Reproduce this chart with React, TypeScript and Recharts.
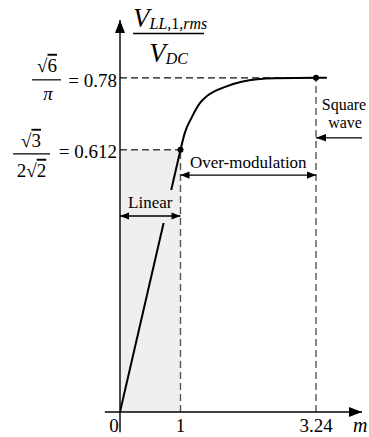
import React from 'react';
import {
  ComposedChart,
  Line,
  XAxis,
  YAxis,
  ReferenceLine,
  ReferenceArea,
  ReferenceDot,
} from 'recharts';

const FONT = "'Liberation Serif', 'Times New Roman', serif";

// Modulation index axis
const mTicks = [0, 1, 3.24];
const mTickLabels = ['0', '1', '3.24'];

// Normalised line-to-line fundamental voltage axis
const vTicks = [0.78, 0.612];
const vTickValueLabels = ['= 0.78', '= 0.612'];

// Linear modulation region
const linearM = [0, 1];
const linearV = [0, 0.612];

// Over-modulation region up to six-step (square wave) operation
const overM = [1, 1.07, 1.19, 1.32, 1.46, 1.74, 2.01, 2.56, 3.24, 3.42];
const overV = [0.612, 0.651, 0.689, 0.721, 0.74, 0.759, 0.771, 0.779, 0.78, 0.78];

// Region markers
const mLinearLimit = 1;
const mSquareWave = 3.24;
const vLinearLimit = 0.612;
const vSquareWave = 0.78;
const vLinearArrow = 0.4575;
const vOverArrow = 0.553;
const vSquareArrow = 0.64;

const linearRows = linearM.map((m, i) => ({ m, v: linearV[i] }));
const overRows = overM.map((m, i) => ({ m, v: overV[i] }));

const M_MAX = 4;
const V_MAX = 0.915;

const serif: React.CSSProperties = { fontFamily: FONT };
const serifItalic: React.CSSProperties = { fontFamily: FONT, fontStyle: 'italic' };

function headPoints(tx: number, ty: number, fx: number, fy: number, len: number, half: number) {
  const dx = tx - fx;
  const dy = ty - fy;
  const d = Math.hypot(dx, dy) || 1;
  const ux = dx / d;
  const uy = dy / d;
  const bx = tx - ux * len;
  const by = ty - uy * len;
  return `${tx},${ty} ${bx - uy * half},${by + ux * half} ${bx + uy * half},${by - ux * half}`;
}

type ArrowOpts = {
  start?: boolean;
  end?: boolean;
  len: number;
  half: number;
  width: number;
  extra?: (x1: number, y1: number, x2: number, y2: number) => React.ReactNode;
  under?: (x1: number, y1: number, x2: number, y2: number) => React.ReactNode;
};

const arrowShape = (o: ArrowOpts) => (p: any) => {
  const x1 = Number(p.x1);
  const y1 = Number(p.y1);
  const x2 = Number(p.x2);
  const y2 = Number(p.y2);
  return (
    <g>
      {o.under ? o.under(x1, y1, x2, y2) : null}
      <line x1={x1} y1={y1} x2={x2} y2={y2} stroke="#000" strokeWidth={o.width} />
      {o.end ? <polygon points={headPoints(x2, y2, x1, y1, o.len, o.half)} fill="#000" /> : null}
      {o.start ? <polygon points={headPoints(x1, y1, x2, y2, o.len, o.half)} fill="#000" /> : null}
      {o.extra ? o.extra(x1, y1, x2, y2) : null}
    </g>
  );
};

const axisArrow = arrowShape({ end: true, len: 13, half: 5, width: 1.4 });

const linearArrow = arrowShape({
  start: true,
  end: true,
  len: 9,
  half: 3.6,
  width: 1.3,
  under: (x1, y1, x2) => (
    <rect x={x1 + 4} y={y1 - 26} width={x2 - x1 - 7} height={33} fill="#efefef" />
  ),
  extra: (x1, y1, x2) => (
    <text x={(x1 + x2) / 2} y={y1 - 8} textAnchor="middle" style={serif} fontSize={17} fill="#000">
      Linear
    </text>
  ),
});

const overArrow = arrowShape({
  start: true,
  end: true,
  len: 9,
  half: 3.6,
  width: 1.3,
  extra: (x1, y1, x2) => (
    <text x={(x1 + x2) / 2} y={y1 - 7} textAnchor="middle" style={serif} fontSize={17} fill="#000">
      Over-modulation
    </text>
  ),
});

const squareArrow = arrowShape({
  start: true,
  len: 10,
  half: 3.8,
  width: 1.3,
  extra: (x1, y1, x2) => (
    <g>
      <text x={(x1 + x2) / 2 + 5} y={y1 - 28} textAnchor="middle" style={serif} fontSize={16} fill="#000">
        Square
      </text>
      <text x={(x1 + x2) / 2 + 6} y={y1 - 9.5} textAnchor="middle" style={serif} fontSize={16} fill="#000">
        wave
      </text>
    </g>
  ),
});

const MTick = (props: any) => {
  const { x, y, payload } = props;
  const i = mTicks.indexOf(payload.value);
  return (
    <text
      x={x + (payload.value === 0 ? -6 : 0)}
      y={y + 20}
      textAnchor="middle"
      style={serif}
      fontSize={19}
      fill="#000"
    >
      {mTickLabels[i]}
    </text>
  );
};

const Root = ({ x, y, d, size }: { x: number; y: number; d: string; size: number }) => (
  <text x={x} y={y} textAnchor="middle" style={serif} fontSize={size} fill="#000">
    √<tspan style={{ textDecoration: 'overline' }}>{d}</tspan>
  </text>
);

const VTick = (props: any) => {
  const { x, y, payload } = props;
  const i = vTicks.indexOf(payload.value);
  const label = vTickValueLabels[i];
  if (i === 0) {
    // sqrt(6)/pi
    return (
      <g>
        <Root x={x - 73} y={y - 6} d="6" size={19} />
        <line x1={x - 88} x2={x - 59} y1={y + 2} y2={y + 2} stroke="#000" strokeWidth={1.2} />
        <text x={x - 72} y={y + 22} textAnchor="middle" style={serifItalic} fontSize={19} fill="#000">
          π
        </text>
        <text x={x - 3} y={y + 9} textAnchor="end" style={serif} fontSize={19} fill="#000">
          {label}
        </text>
      </g>
    );
  }
  // sqrt(3)/(2 sqrt(2))
  return (
    <g>
      <Root x={x - 89} y={y - 3} d="3" size={19} />
      <line x1={x - 107} x2={x - 70} y1={y + 4} y2={y + 4} stroke="#000" strokeWidth={1.2} />
      <text x={x - 88.5} y={y + 27} textAnchor="middle" style={serif} fontSize={19} fill="#000">
        2√<tspan style={{ textDecoration: 'overline' }}>2</tspan>
      </text>
      <text x={x - 3} y={y + 8} textAnchor="end" style={serif} fontSize={19} fill="#000">
        {label}
      </text>
    </g>
  );
};

const VLabel = (props: any) => {
  const vb = props.viewBox || { x: 0, y: 20, width: 120, height: 392 };
  const x0 = vb.x + vb.width;
  const top = vb.y;
  return (
    <g fill="#000">
      <text x={x0 + 13} y={top + 7} style={serifItalic} fontSize={27}>
        V
        <tspan fontSize={16} dy={2}>
          LL,<tspan style={{ fontStyle: 'normal' }}>1</tspan>,rms
        </tspan>
      </text>
      <line x1={x0 + 13} x2={x0 + 84} y1={top + 13.5} y2={top + 13.5} stroke="#000" strokeWidth={1.3} />
      <text x={x0 + 48.5} y={top + 42} textAnchor="middle" style={serifItalic} fontSize={27}>
        V
        <tspan fontSize={16} dy={2}>
          DC
        </tspan>
      </text>
    </g>
  );
};

const MLabel = (props: any) => {
  const vb = props.viewBox || { x: 120, y: 412, width: 242, height: 25 };
  return (
    <text x={vb.x + vb.width - 9} y={vb.y + 20} style={serifItalic} fontSize={20} fill="#000">
      m
    </text>
  );
};

export default function App() {
  return (
    <div
      style={{
        position: 'absolute',
        left: 0,
        top: 0,
        width: 369,
        height: 437,
        background: '#fff',
        fontFamily: FONT,
      }}
    >
      <ComposedChart
        width={369}
        height={437}
        margin={{ top: 20, right: 7, bottom: 0, left: 0 }}
        style={{ fontFamily: FONT }}
      >
        <XAxis
          dataKey="m"
          type="number"
          domain={[0, M_MAX]}
          ticks={mTicks}
          allowDataOverflow
          axisLine={false}
          tickLine={false}
          tickSize={0}
          tickMargin={0}
          height={25}
          tick={MTick}
          label={{ content: MLabel }}
        />
        <YAxis
          dataKey="v"
          type="number"
          domain={[0, V_MAX]}
          ticks={vTicks}
          allowDataOverflow
          axisLine={false}
          tickLine={false}
          tickSize={0}
          tickMargin={0}
          width={120}
          tick={VTick}
          label={{ content: VLabel }}
        />

        {/* linear region shading */}
        <ReferenceArea
          x1={0}
          x2={mLinearLimit}
          y1={0}
          y2={vLinearLimit}
          fill="#efefef"
          fillOpacity={1}
          stroke="none"
        />

        {/* guide lines */}
        <ReferenceLine
          segment={[{ x: 0, y: vSquareWave }, { x: mSquareWave, y: vSquareWave }]}
          stroke="#111"
          strokeWidth={1.3}
          strokeDasharray="7 4"
        />
        <ReferenceLine
          segment={[{ x: 0, y: vLinearLimit }, { x: mLinearLimit, y: vLinearLimit }]}
          stroke="#444"
          strokeWidth={1.4}
          strokeDasharray="7 4"
        />
        <ReferenceLine
          segment={[{ x: mLinearLimit, y: 0 }, { x: mLinearLimit, y: vLinearLimit }]}
          stroke="#555"
          strokeWidth={1.4}
          strokeDasharray="7 4"
        />
        <ReferenceLine
          segment={[{ x: mSquareWave, y: 0 }, { x: mSquareWave, y: vSquareWave }]}
          stroke="#555"
          strokeWidth={1.4}
          strokeDasharray="7 4"
        />

        <Line
          data={linearRows}
          dataKey="v"
          type="linear"
          stroke="#000"
          strokeWidth={2}
          dot={false}
          activeDot={false}
          isAnimationActive={false}
        />
        <Line
          data={overRows}
          dataKey="v"
          type="monotone"
          stroke="#000"
          strokeWidth={2}
          dot={false}
          activeDot={false}
          isAnimationActive={false}
        />

        {/* axes with arrow heads */}
        <ReferenceLine
          segment={[{ x: -0.25, y: 0 }, { x: M_MAX, y: 0 }]}
          ifOverflow="visible"
          shape={axisArrow}
          zIndex={450}
        />
        <ReferenceLine
          segment={[{ x: 0, y: -0.047 }, { x: 0, y: V_MAX }]}
          ifOverflow="visible"
          shape={axisArrow}
          zIndex={450}
        />

        {/* region dimension arrows */}
        <ReferenceLine
          segment={[{ x: 0, y: vLinearArrow }, { x: mLinearLimit, y: vLinearArrow }]}
          ifOverflow="visible"
          shape={linearArrow}
          zIndex={460}
        />
        <ReferenceLine
          segment={[{ x: mLinearLimit, y: vOverArrow }, { x: mSquareWave, y: vOverArrow }]}
          ifOverflow="visible"
          shape={overArrow}
          zIndex={460}
        />
        <ReferenceLine
          segment={[{ x: mSquareWave, y: vSquareArrow }, { x: M_MAX, y: vSquareArrow }]}
          ifOverflow="visible"
          shape={squareArrow}
          zIndex={460}
        />

        <ReferenceDot x={mLinearLimit} y={vLinearLimit} r={3} fill="#000" stroke="none" zIndex={500} />
        <ReferenceDot x={mSquareWave} y={vSquareWave} r={3} fill="#000" stroke="none" zIndex={500} />
      </ComposedChart>
    </div>
  );
}
